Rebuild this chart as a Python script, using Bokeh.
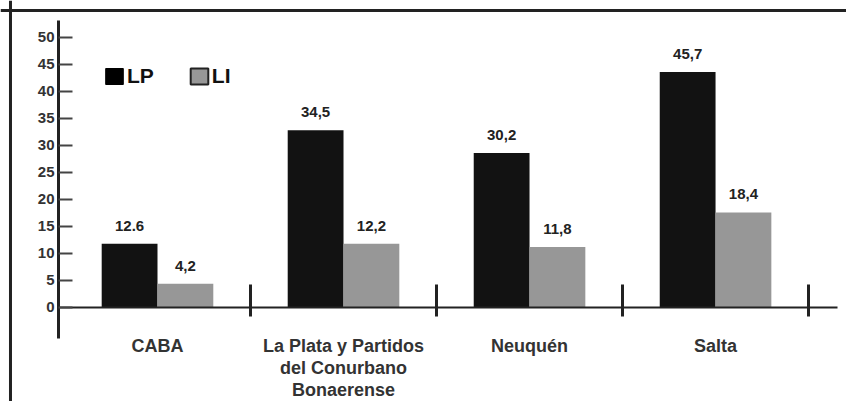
from bokeh.plotting import figure
from bokeh.models import (Range1d, LinearAxis, FixedTicker, Span, ColumnDataSource,
                          Legend, LegendItem)
from bokeh.core.properties import value
from bokeh.embed import file_html
from bokeh.resources import INLINE

# ---- data ----
categories = ["CABA", "La Plata y Partidos\ndel Conurbano\nBonaerense", "Neuquén", "Salta"]
lp_values = [11.8, 32.8, 28.6, 43.6]
li_values = [4.4, 11.8, 11.2, 17.6]
lp_labels = ["12.6", "34,5", "30,2", "45,7"]
li_labels = ["4,2", "12,2", "11,8", "18,4"]
y_ticks = [0, 5, 10, 15, 20, 25, 30, 35, 40, 45, 50]

FONT = "Liberation Sans"
DARK = "#222222"
LP_COLOR = "#121212"
LI_COLOR = "#979797"

pos = [i + 1 for i in range(len(categories))]
boundaries = [p + 0.5 for p in pos]
bar_w = 0.30

W, H = 846, 401
p = figure(width=W, height=H, output_backend="svg", toolbar_location=None,
           x_axis_type=None, y_axis_type=None,
           x_range=Range1d(0.156, 4.704), y_range=Range1d(-17.41, 56.85),
           min_border=0, outline_line_color=None)
p.background_fill_color = "white"
p.border_fill_color = "white"

# frame border (top and left only, the picture is cropped)
p.add_layout(Span(location=55.0, dimension="width", line_color=DARK, line_width=3))
p.add_layout(Span(location=0.2097, dimension="height", line_color=DARK, line_width=3))

src = ColumnDataSource(dict(
    x_lp=[x - bar_w / 2 for x in pos],
    x_li=[x + bar_w / 2 for x in pos],
    lp=lp_values, li=li_values, lp_lab=lp_labels, li_lab=li_labels))

r_lp = p.vbar(x="x_lp", top="lp", bottom=0, width=bar_w, source=src,
              fill_color=LP_COLOR, line_color=None)
r_li = p.vbar(x="x_li", top="li", bottom=0, width=bar_w, source=src,
              fill_color=LI_COLOR, line_color=None)

for xcol, ycol, tcol in [("x_lp", "lp", "lp_lab"), ("x_li", "li", "li_lab")]:
    p.text(x=xcol, y=ycol, text=tcol, source=src, text_align="center",
           text_baseline="middle", y_offset=-18, text_font=value(FONT),
           text_font_style="bold", text_font_size="15px", text_color=DARK)

# y axis
yax = LinearAxis(fixed_location=0.468, ticker=FixedTicker(ticks=y_ticks),
                 bounds=(-5.74, 53.1))
yax.axis_line_color = DARK
yax.axis_line_width = 3
yax.major_tick_in = 14
yax.major_tick_out = 0
yax.major_tick_line_color = "#444444"
yax.major_tick_line_width = 2
yax.minor_tick_line_color = None
yax.major_label_standoff = 4
yax.major_label_text_font = FONT
yax.major_label_text_font_style = "bold"
yax.major_label_text_font_size = "15px"
yax.major_label_text_color = "#333333"
p.add_layout(yax, "left")

# x axis (boundary ticks)
xax = LinearAxis(fixed_location=0, ticker=FixedTicker(ticks=boundaries),
                 bounds=(0.468, 4.656))
xax.axis_line_color = DARK
xax.axis_line_width = 2
xax.major_tick_in = 23
xax.major_tick_out = 9
xax.major_tick_line_color = DARK
xax.major_tick_line_width = 3
xax.minor_tick_line_color = None
xax.major_label_text_color = None
p.add_layout(xax, "below")

# category labels axis
cax = LinearAxis(fixed_location=0, ticker=FixedTicker(ticks=pos))
cax.major_label_overrides = {p_: c for p_, c in zip(pos, categories)}
cax.axis_line_color = None
cax.major_tick_line_color = None
cax.minor_tick_line_color = None
cax.major_tick_in = 0
cax.major_tick_out = 0
cax.major_label_standoff = 29
cax.major_label_text_font = FONT
cax.major_label_text_font_style = "bold"
cax.major_label_text_font_size = "18px"
cax.major_label_text_color = "#333333"
cax.major_label_text_line_height = 1.08
p.add_layout(cax, "below")

# legend (legend-only renderers, nothing drawn in the plot)
nan = float("nan")
leg_src = ColumnDataSource(dict(l=[nan], r=[nan], t=[nan], b=[nan]))
g_lp = p.quad(left="l", right="r", top="t", bottom="b", source=leg_src,
              fill_color="#000000", line_color="#000000", line_width=1)
g_li = p.quad(left="l", right="r", top="t", bottom="b", source=leg_src,
              fill_color=LI_COLOR, line_color=DARK, line_width=2)
legend = Legend(items=[LegendItem(label="LP", renderers=[g_lp]),
                       LegendItem(label="LI", renderers=[g_li])],
                orientation="horizontal", location=(103, 313),
                glyph_width=22, glyph_height=20, label_standoff=2, spacing=34,
                padding=0, margin=0, border_line_color=None,
                background_fill_alpha=0, label_height=20,
                label_text_font=FONT, label_text_font_style="bold",
                label_text_font_size="21px", label_text_color="#111111")
p.add_layout(legend, "center")

open("out.html", "w").write(file_html(p, INLINE))
